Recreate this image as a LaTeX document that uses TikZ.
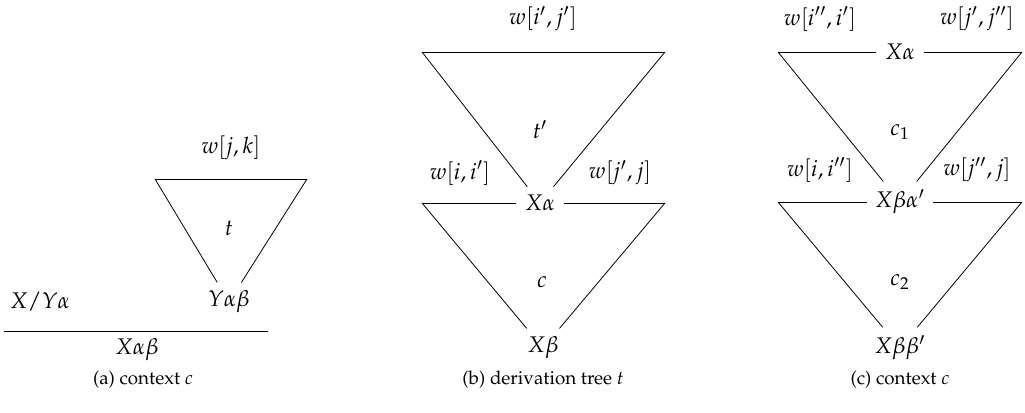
\documentclass[tikz,border=0pt]{standalone}
\usepackage[T1]{fontenc}
\usepackage{mathpazo}
\usepackage{amsmath}
\usetikzlibrary{positioning,calc}
\tikzset{
    lbl/.style    = {inner sep=4pt, font=\fontsize{11.3}{13}\selectfont},
    subcap/.style = {inner sep=1pt, font=\fontsize{9.4}{11}\selectfont},
    edge/.style   = {draw, line width=0.4pt}
}

\begin{document}
\begin{tikzpicture}[x=0.5pt, y=-0.5pt]
  \useasboundingbox (0,0) rectangle (1025,413);

  % (a) context c
  \node [lbl] (wjk)  at (231,148) {$w[j,k]$};
  \node [lbl] (t)    at (229,228) {$t$};
  \node [lbl] (yab)  at (229,302) {$Y\alpha\beta$};
  \node [lbl] (xya)  at (40,302)  {$X/Y\alpha$};
  \node [lbl] (xab)  at (137,350) {$X\alpha\beta$};
  \node [subcap] (capa) at (143,380) {(a) context $c$};
  \coordinate (aTL) at (155,179);
  \coordinate (aTR) at (307,179);
  \coordinate (barL) at (4,331);
  \coordinate (barR) at (268,331);

  \path [edge] (aTL) -- (aTR);
  \path [edge] (aTL) -- (yab);
  \path [edge] (aTR) -- (yab);
  \path [edge] (barL) -- (barR);

  % (b) derivation tree t
  \node [lbl] (wij)  at (543,19)  {$w[i',j']$};
  \node [lbl] (tp)   at (540,130) {$t'$};
  \node [lbl] (wii)  at (460,173) {$w[i,i']$};
  \node [lbl] (wjj)  at (620,173) {$w[j',j]$};
  \node [lbl] (xa)   at (540,203) {$X\alpha$};
  \node [lbl] (c)    at (542,282) {$c$};
  \node [lbl] (xb)   at (543,348) {$X\beta$};
  \node [subcap] (capb) at (543,380) {(b) derivation tree $t$};
  \coordinate (bTL) at (422,52);
  \coordinate (bTR) at (665,52);
  \coordinate (bML) at (422,203);
  \coordinate (bMR) at (665,203);

  \path [edge] (bTL) -- (bTR);
  \path [edge] (bTL) -- (xa);
  \path [edge] (bTR) -- (xa);
  \path [edge] (bML) -- (xa);
  \path [edge] (bMR) -- (xa);
  \path [edge] (bML) -- (xb);
  \path [edge] (bMR) -- (xb);

  % (c) context c
  \node [lbl] (wiip) at (820,19)  {$w[i'',i']$};
  \node [lbl] (wjjp) at (977,19)  {$w[j',j'']$};
  \node [lbl] (xa2)  at (900,52)  {$X\alpha$};
  \node [lbl] (c1)   at (900,132) {$c_1$};
  \node [lbl] (wi2)  at (820,170) {$w[i,i'']$};
  \node [lbl] (wj2)  at (977,170) {$w[j'',j]$};
  \node [lbl] (xba)  at (900,202) {$X\beta\alpha'$};
  \node [lbl] (c2)   at (900,282) {$c_2$};
  \node [lbl] (xbb)  at (900,348) {$X\beta\beta'$};
  \node [subcap] (capc) at (900,380) {(c) context $c$};
  \coordinate (cTL) at (778,52);
  \coordinate (cTR) at (1022,52);
  \coordinate (cML) at (778,202);
  \coordinate (cMR) at (1022,202);

  \path [edge] (cTL) -- (xa2);
  \path [edge] (cTR) -- (xa2);
  \path [edge] (cTL) -- (xba);
  \path [edge] (cTR) -- (xba);
  \path [edge] (cML) -- (xba);
  \path [edge] (cMR) -- (xba);
  \path [edge] (cML) -- (xbb);
  \path [edge] (cMR) -- (xbb);
\end{tikzpicture}
\end{document}
